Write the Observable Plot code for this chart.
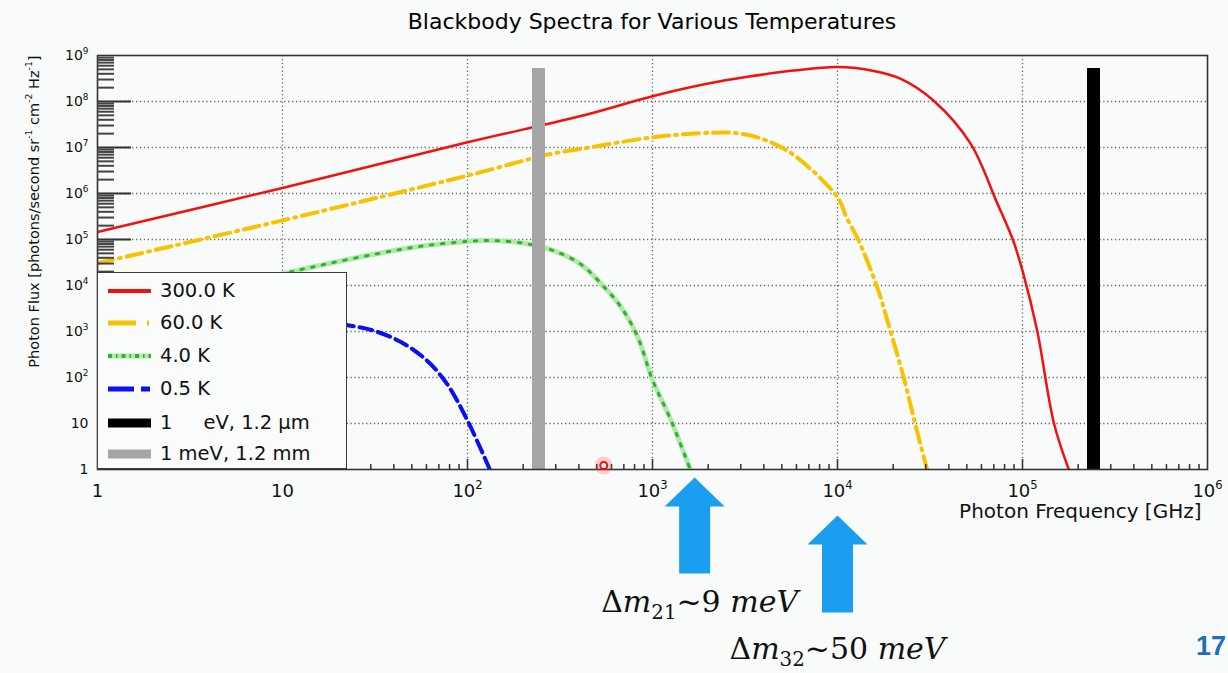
<!DOCTYPE html>
<html>
<head>
<meta charset="utf-8">
<script src="https://cdn.jsdelivr.net/npm/d3@7"></script>
<script src="https://cdn.jsdelivr.net/npm/@observablehq/plot@0.6"></script>
<style>
html,body{margin:0;padding:0;background:#f8fbf9;}
#wrap{position:relative;width:1228px;height:673px;overflow:hidden;font-family:"DejaVu Sans",Arial,sans-serif;background:#f8fbf9;}
#title{height:44px;line-height:44px;text-align:center;font-size:22px;color:#000;padding-left:76px;}
#chart svg{display:block;}
#legend{position:absolute;left:97px;top:272px;width:250px;height:197px;box-sizing:border-box;border:1.6px solid #3c3c3c;background:#fafcfb;}
.row{position:absolute;left:0;height:30px;width:248px;}
.row svg{position:absolute;left:9px;top:7px;}
.row span{position:absolute;left:62px;top:2px;font-size:19.5px;line-height:26px;color:#111;white-space:pre;}
#page{position:absolute;left:1196px;top:631px;font-size:27px;font-weight:bold;color:#1f70b8;font-family:"Liberation Sans",Arial,sans-serif;}
</style>
</head>
<body>
<div id="wrap">
  <div id="title">Blackbody Spectra for Various Temperatures</div>
  <div id="chart"></div>
  <div id="legend"></div>
  <div id="page">17</div>
</div>
<script>
// ---- data (frequency in GHz, photon flux) ----
const freq300 = [1, 10, 100, 400, 1000, 2000, 3200, 5800, 10000, 15700, 22000, 33000, 52500, 72000, 89000, 100000, 120000, 148000, 178000];
const flux300 = [1.45e5, 1.32e6, 1.3e7, 4.7e7, 1.3e8, 2.45e8, 3.4e8, 4.7e8, 5.6e8, 4.6e8, 3.1e8, 1.05e8, 1.2e7, 7e5, 9.5e4, 2.1e4, 1.05e3, 10, 1.0];

const freq60 = [1, 10, 100, 280, 410, 1000, 2140, 3000, 4170, 5820, 10000, 11200, 13000, 16400, 19400, 22900, 26300, 30500];
const flux60 = [3.05e4, 2.6e5, 2.45e6, 7.2e6, 9.3e6, 1.66e7, 2.1e7, 2.0e7, 1.4e7, 6.8e6, 8.3e5, 3.0e5, 9.5e4, 9.1e3, 970, 93, 9.8, 1.0];

const freq4 = [1, 3, 10.6, 17.4, 32.4, 55.6, 100, 138, 209, 282, 407, 550, 676, 832, 1000, 1260, 1600];
const flux4 = [2.0e3, 5.9e3, 1.9e4, 2.95e4, 4.9e4, 7.1e4, 9.1e4, 9.5e4, 8.1e4, 6.0e4, 2.95e4, 9.1e3, 3.4e3, 760, 89, 11.6, 1.0];

const freq05 = [1, 3, 10, 16, 22.9, 30.9, 43.7, 60.3, 77.6, 100, 132];
const flux05 = [250, 650, 1490, 1650, 1350, 1050, 590, 234, 72, 11.6, 1.0];

const barFreq = [242, 242000];          // 1 meV and 1 eV
const barTop = [5.2e8, 5.2e8];

const arrowFreq = [1690, 10000];
const arrowLabels = ["Δ*m*_{21}~9 *meV*", "Δ*m*_{32}~50 *meV*"];

const pointerFreq = [545];
const pointerFlux = [1.22];

const xTickValues = [1, 10, 100, 1e3, 1e4, 1e5, 1e6];
const yTickValues = [1, 10, 100, 1e3, 1e4, 1e5, 1e6, 1e7, 1e8, 1e9];

const legendLabels = ["300.0 K", "60.0 K", "4.0 K", "0.5 K", "1     eV, 1.2 µm", "1 meV, 1.2 mm"];
const xLabel = "Photon Frequency [GHz]";
const yLabel = "Photon Flux [photons/second sr^{-1} cm^{-2} Hz^{-1}]";

// ---- build tables ----
const toRows = (f, v) => f.map((x, i) => ({freq: x, flux: v[i]}));
const s300 = toRows(freq300, flux300);
const s60 = toRows(freq60, flux60);
const s4 = toRows(freq4, flux4);
const s05 = toRows(freq05, flux05);
const bars = barFreq.map((f, i) => ({freq: f, top: barTop[i]}));
const arrows = arrowFreq.map((f, i) => ({freq: f, label: arrowLabels[i]}));
const pointer = pointerFreq.map((f, i) => ({freq: f, flux: pointerFlux[i]}));

const minorX = [], minorY = [];
for (let e = 0; e < 6; e++) for (let m = 2; m <= 9; m++) minorX.push(m * 10 ** e);
for (let e = 0; e < 9; e++) for (let m = 2; m <= 9; m++) minorY.push(m * 10 ** e);

const W = 1228, H = 629, mL = 97, mR = 21, mT = 11, mB = 204;
const plotW = W - mL - mR, plotH = H - mT - mB;

const fmt = d => d === 1 ? "1" : d === 10 ? "10" : `10^{${Math.round(Math.log10(d))}}`;

const blockArrow = {
  draw(ctx, l) {
    const hw = 30, sw = 15.5, hh = 29;
    ctx.moveTo(-sw, 0);
    ctx.lineTo(-sw, -(l - hh));
    ctx.lineTo(-hw, -(l - hh));
    ctx.lineTo(0, -l);
    ctx.lineTo(hw, -(l - hh));
    ctx.lineTo(sw, -(l - hh));
    ctx.lineTo(sw, 0);
    ctx.closePath();
  }
};

const lineOpts = {x: "freq", y: "flux", curve: "catmull-rom", clip: true};
const serif = "DejaVu Serif, serif";

const chart = Plot.plot({
  width: W, height: H,
  marginLeft: mL, marginRight: mR, marginTop: mT, marginBottom: mB,
  style: {background: "transparent", fontFamily: "DejaVu Sans, Arial, sans-serif", color: "#111", overflow: "visible"},
  x: {type: "log", domain: [1, 1e6]},
  y: {type: "log", domain: [1, 1e9]},
  marks: [
    Plot.gridX(xTickValues.slice(1, -1), {stroke: "#6a6a6a", strokeOpacity: 1, strokeWidth: 1.3, strokeDasharray: "1.3,2.6"}),
    Plot.gridY(yTickValues.slice(1, -1), {stroke: "#6a6a6a", strokeOpacity: 1, strokeWidth: 1.3, strokeDasharray: "1.3,2.6"}),
    Plot.line(s05, {...lineOpts, stroke: "#0a10f0", strokeWidth: 4, strokeDasharray: "13,6"}),
    Plot.line(s4, {...lineOpts, stroke: "#b2e8ac", strokeWidth: 5}),
    Plot.line(s4, {...lineOpts, stroke: "#2fb32f", strokeWidth: 3, strokeDasharray: "2.5,8.5"}),
    Plot.line(s60, {...lineOpts, stroke: "#f7c200", strokeWidth: 4, strokeDasharray: "16,6,2,6"}),
    Plot.line(s300, {...lineOpts, stroke: "#f21010", strokeWidth: 2.5}),
    Plot.ruleX(bars.slice(0, 1), {x: "freq", y1: 1, y2: "top", stroke: "#a6a6a6", strokeWidth: 13}),
    Plot.ruleX(bars.slice(1), {x: "freq", y1: 1, y2: "top", stroke: "#000", strokeWidth: 13}),
    Plot.frame({stroke: "#333", strokeWidth: 1.6}),
    Plot.tickY(minorY, {y: d => d, insetRight: plotW - 17, stroke: "#444", strokeWidth: 2}),
    Plot.tickY(yTickValues.slice(1, -1), {y: d => d, insetRight: plotW - 34, stroke: "#333", strokeWidth: 2}),
    Plot.tickX(minorX, {x: d => d, insetTop: plotH - 5, stroke: "#333", strokeWidth: 1.5}),
    Plot.tickX(xTickValues.slice(1, -1), {x: d => d, insetTop: plotH - 10, stroke: "#333", strokeWidth: 1.5}),
    Plot.axisX({ticks: xTickValues, tickSize: 0, tickPadding: 15, tickFormat: fmt, fontSize: 18, label: null}),
    Plot.axisY({ticks: yTickValues, tickSize: 0, tickPadding: 9, tickFormat: fmt, fontSize: 14, label: null}),
    Plot.text([xLabel], {frameAnchor: "bottom-right", dx: -6, dy: 48, textAnchor: "end", fontSize: 20}),
    Plot.text([yLabel], {frameAnchor: "top-left", dx: -69, rotate: -90, textAnchor: "end", fontSize: 14.5}),
    Plot.dot(pointer, {x: "freq", y: "flux", r: 9, fill: "#ff3030", fillOpacity: 0.22, stroke: "none"}),
    Plot.dot(pointer, {x: "freq", y: "flux", r: 3.5, fill: "#fff", stroke: "#ee1010", strokeWidth: 2}),
    Plot.vector(arrows.slice(0, 1), {x: "freq", y: () => 1, length: 96, anchor: "end", shape: blockArrow, fill: "#1b9df0", stroke: "none", dy: 8}),
    Plot.vector(arrows.slice(1), {x: "freq", y: () => 1, length: 97, anchor: "end", shape: blockArrow, fill: "#1b9df0", stroke: "none", dy: 46}),
    Plot.text(arrows.slice(0, 1), {x: "freq", y: () => 1, text: "label", dx: 5, dy: 133, fontSize: 30, fontFamily: serif, fill: "#111"}),
    Plot.text(arrows.slice(1), {x: "freq", y: () => 1, text: "label", dy: 180, fontSize: 30, fontFamily: serif, fill: "#111"})
  ]
});

// rich text: ^{..} superscript, _{..} subscript, *..* italic
const NS = "http://www.w3.org/2000/svg";
function richify(root) {
  root.querySelectorAll("text").forEach(t => {
    const s = t.textContent;
    if (!/[\^_*]/.test(s)) return;
    const parts = s.match(/(\^\{[^}]*\}|_\{[^}]*\}|\*[^*]*\*|[^\^_*]+)/g) || [];
    while (t.firstChild) t.removeChild(t.firstChild);
    let shift = 0;
    parts.forEach(p => {
      let target = 0, size = 1, txt = p, italic = false;
      if (p.startsWith("^{")) { target = -0.45; size = 0.64; txt = p.slice(2, -1); }
      else if (p.startsWith("_{")) { target = 0.24; size = 0.66; txt = p.slice(2, -1); }
      else if (p.startsWith("*")) { italic = true; txt = p.slice(1, -1); }
      const ts = document.createElementNS(NS, "tspan");
      const d = target - shift;
      if (Math.abs(d) > 1e-6) ts.setAttribute("dy", (d / size).toFixed(3) + "em");
      if (size !== 1) ts.setAttribute("font-size", size + "em");
      if (italic) ts.setAttribute("font-style", "italic");
      ts.textContent = txt;
      t.appendChild(ts);
      shift = target;
    });
  });
}
richify(chart);
document.getElementById("chart").appendChild(chart);

// legend
const legendEl = document.getElementById("legend");
const swatches = [
  `<line x1="1" y1="8" x2="44" y2="8" stroke="#f21010" stroke-width="4"/>`,
  `<line x1="1" y1="8" x2="44" y2="8" stroke="#f7c200" stroke-width="5" stroke-dasharray="28,11,2,20"/>`,
  `<line x1="1" y1="8" x2="44" y2="8" stroke="#b2e8ac" stroke-width="5"/><line x1="1" y1="8" x2="44" y2="8" stroke="#2fb32f" stroke-width="4" stroke-dasharray="4,4,1.5,4"/>`,
  `<line x1="1" y1="8" x2="44" y2="8" stroke="#0a10f0" stroke-width="5" stroke-dasharray="26,7,9,20"/>`,
  `<line x1="1" y1="8" x2="44" y2="8" stroke="#000" stroke-width="9"/>`,
  `<line x1="1" y1="8" x2="44" y2="8" stroke="#a6a6a6" stroke-width="9"/>`
];
const rowTops = [3, 35, 68, 101, 135, 166];
legendLabels.forEach((lab, i) => {
  const r = document.createElement("div");
  r.className = "row";
  r.style.top = rowTops[i] + "px";
  r.innerHTML = `<svg width="46" height="16">${swatches[i]}</svg><span></span>`;
  r.querySelector("span").textContent = lab;
  legendEl.appendChild(r);
});
</script>
</body>
</html>
